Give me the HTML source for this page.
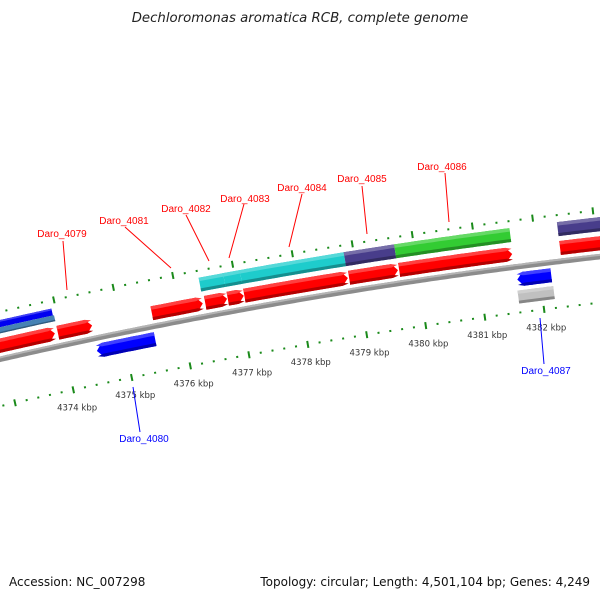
<!DOCTYPE html>
<html><head><meta charset="utf-8">
<style>
html,body{margin:0;padding:0;background:#fff;}
svg{display:block;font-family:"Liberation Sans",sans-serif;}
</style></head>
<body>
<svg id="chart" width="600" height="600" viewBox="0 0 600 600">
<text x="300" y="22" text-anchor="middle" font-size="13.3" font-style="italic" fill="#222" style="font-family:'DejaVu Sans',sans-serif">Dechloromonas aromatica RCB, complete genome</text>
<g id="rings"></g>
<g id="backbone"></g>
<g id="features"></g>
<g id="ticklabels"></g>
<g id="genelabels" font-size="10">
  <g><text x="62" y="237" text-anchor="middle" fill="#ff0000">Daro_4079</text><line x1="63" y1="241" x2="67" y2="290" stroke="#ff0000" stroke-width="1"/></g>
  <g><text x="124" y="224" text-anchor="middle" fill="#ff0000">Daro_4081</text><line x1="125" y1="227" x2="171" y2="268" stroke="#ff0000" stroke-width="1"/></g>
  <g><text x="186" y="212" text-anchor="middle" fill="#ff0000">Daro_4082</text><line x1="186" y1="215" x2="209" y2="261" stroke="#ff0000" stroke-width="1"/></g>
  <g><text x="245" y="202" text-anchor="middle" fill="#ff0000">Daro_4083</text><line x1="244" y1="204" x2="229" y2="258" stroke="#ff0000" stroke-width="1"/></g>
  <g><text x="302" y="191" text-anchor="middle" fill="#ff0000">Daro_4084</text><line x1="302" y1="194" x2="289" y2="247" stroke="#ff0000" stroke-width="1"/></g>
  <g><text x="362" y="182" text-anchor="middle" fill="#ff0000">Daro_4085</text><line x1="362" y1="186" x2="367" y2="234" stroke="#ff0000" stroke-width="1"/></g>
  <g><text x="442" y="170" text-anchor="middle" fill="#ff0000">Daro_4086</text><line x1="445" y1="173" x2="449" y2="222" stroke="#ff0000" stroke-width="1"/></g>
  <g><text x="144" y="442" text-anchor="middle" fill="#0000ff">Daro_4080</text><line x1="133" y1="387" x2="140" y2="432" stroke="#0000ff" stroke-width="1"/></g>
  <g><text x="546" y="374" text-anchor="middle" fill="#0000ff">Daro_4087</text><line x1="540" y1="318" x2="544" y2="364" stroke="#0000ff" stroke-width="1"/></g>
</g>
<text x="9" y="586" font-size="12" fill="#111" style="font-family:'DejaVu Sans',sans-serif">Accession: NC_007298</text>
<text x="590" y="586" font-size="12" text-anchor="end" fill="#111" style="font-family:'DejaVu Sans',sans-serif">Topology: circular; Length: 4,501,104 bp; Genes: 4,249</text>
</svg>
<script>
// ---- data ----
const featStart = [4372.5, 4373.95, 4375.54, 4376.44, 4376.82, 4377.10, 4378.86, 4379.70, 4382.39, 4374.52, 4381.62, 4372.5, 4372.5, 4376.41, 4376.82, 4377.10, 4378.84, 4379.68, 4382.39, 4381.60];
const featEnd   = [4373.90, 4374.53, 4376.40, 4376.81, 4377.09, 4378.84, 4379.68, 4381.59, 4384.0, 4375.51, 4382.19, 4373.93, 4373.95, 4376.82, 4377.10, 4378.84, 4379.68, 4381.60, 4384.0, 4382.20];
const featStrand= [1,1,1,1,1,1,1,1,1,-1,-1,0,0,0,0,0,0,0,0,0];
const featRow   = ["fwd","fwd","fwd","fwd","fwd","fwd","fwd","fwd","fwd","rev","rev","cogTop","cogBot","cog","cog","cog","cog","cog","cog","revcog"];
const featColor = ["#ff0000","#ff0000","#ff0000","#ff0000","#ff0000","#ff0000","#ff0000","#ff0000","#ff0000","#0000ff","#0000ff","#0000f0","#4682b4","#1ecccc","#1ecccc","#1ecccc","#483d8b","#33cc33","#483d8b","#c0c0c0"];
const tickKbp = [4374,4375,4376,4377,4378,4379,4380,4381,4382];
const tickText = ["4374 kbp","4375 kbp","4376 kbp","4377 kbp","4378 kbp","4379 kbp","4380 kbp","4381 kbp","4382 kbp"];

// ---- geometry ----
const cx=1221, cy=5691, R0=5470, th0=-0.2022, kPer=0.01101;
const rowD = {fwd:[6,20], rev:[-20,-6], cogTop:[31,38], cogBot:[25,31], cog:[25,39], revcog:[-37,-24]};
function P(kbp,d){const t=th0+(kbp-4375)*kPer;const r=R0+d;return [cx+r*Math.sin(t), cy-r*Math.cos(t)];}
const NS="http://www.w3.org/2000/svg";
function arcPts(a,b,d){const pts=[];const n=Math.max(2,Math.ceil(Math.abs(b-a)/0.05));for(let i=0;i<=n;i++){pts.push(P(a+(b-a)*i/n,d));}return pts;}
function bandPts(a,b,d1,d2,dir){
  const head=0.1; let pts=[];
  const mid=(d1+d2)/2;
  if(dir===1){const bb=Math.max(a,b-head);pts=arcPts(a,bb,d1).concat([P(b,mid)]).concat(arcPts(bb,a,d2));}
  else if(dir===-1){const aa=Math.min(b,a+head);pts=[P(a,mid)].concat(arcPts(aa,b,d1)).concat(arcPts(b,aa,d2));}
  else {pts=arcPts(a,b,d1).concat(arcPts(b,a,d2));}
  return pts.map(p=>p[0].toFixed(1)+","+p[1].toFixed(1)).join(" ");
}
function poly(parent,pts,fill,name){const e=document.createElementNS(NS,"polygon");e.setAttribute("points",pts);e.setAttribute("fill",fill);


parent.appendChild(e);return e;}
function shade(hex,f){const n=parseInt(hex.slice(1),16);let r=n>>16,g=(n>>8)&255,b=n&255;
 if(f>0){r=r+(255-r)*f;g=g+(255-g)*f;b=b+(255-b)*f;}else{r=r*(1+f);g=g*(1+f);b=b*(1+f);}
 return "rgb("+Math.round(r)+","+Math.round(g)+","+Math.round(b)+")";}

// backbone
const bb=document.getElementById("backbone");
poly(bb,bandPts(4372,4384.5,-3,2.5,0),"#8c8c8c","backbone-line");
poly(bb,bandPts(4372,4384.5,0.5,2.5,0),"#b4b4b4","backbone-highlight");

// tick rings
const rings=document.getElementById("rings");
[46,-46].forEach(function(d,ri){
  for(let i=0;i<=65;i++){
    const kb=4372.4+i*0.2; const kr=Math.round(kb*5)/5;
    const major=Math.abs(kr-Math.round(kr))<0.001;
    const half=major?3.5:1.0;
    const p1=P(kr,d-half),p2=P(kr,d+half);
    const l=document.createElementNS(NS,"line");
    l.setAttribute("x1",p1[0]);l.setAttribute("y1",p1[1]);l.setAttribute("x2",p2[0]);l.setAttribute("y2",p2[1]);
    l.setAttribute("stroke","#1a8a1a");l.setAttribute("stroke-width",2);
    
    
    rings.appendChild(l);
  }
});

// features
const fg=document.getElementById("features");
for(let i=0;i<featStart.length;i++){
  const d=rowD[featRow[i]]; const dir=featStrand[i]; const c=featColor[i];
  const g=document.createElementNS(NS,"g");
  
  
  fg.appendChild(g);
  poly(g,bandPts(featStart[i],featEnd[i],d[0],d[1],dir),c,"feature-body");
  const h=d[1]-d[0];
  if(featRow[i]!=="cogTop"){
    poly(g,bandPts(featStart[i],featEnd[i],d[0],d[0]+h*0.22,dir===0?0:dir),shade(c,-0.3),"feature-shadow");
  }
  if(featRow[i]!=="cogBot"){
    poly(g,bandPts(featStart[i],featEnd[i],d[1]-h*0.25,d[1],dir===0?0:dir),shade(c,0.25),"feature-highlight");
  }
}

// tick labels
const tl=document.getElementById("ticklabels");
for(let i=0;i<tickKbp.length;i++){
  const p=P(tickKbp[i],-64);
  const t=document.createElementNS(NS,"text");
  t.setAttribute("x",p[0].toFixed(1));t.setAttribute("y",(p[1]+3).toFixed(1));
  t.setAttribute("text-anchor","middle");t.setAttribute("font-size","8.5");t.setAttribute("fill","#333");
  t.setAttribute("style","font-family:'DejaVu Sans',sans-serif");
  t.textContent=tickText[i];
  
  
  tl.appendChild(t);
}
</script>
</body></html>
